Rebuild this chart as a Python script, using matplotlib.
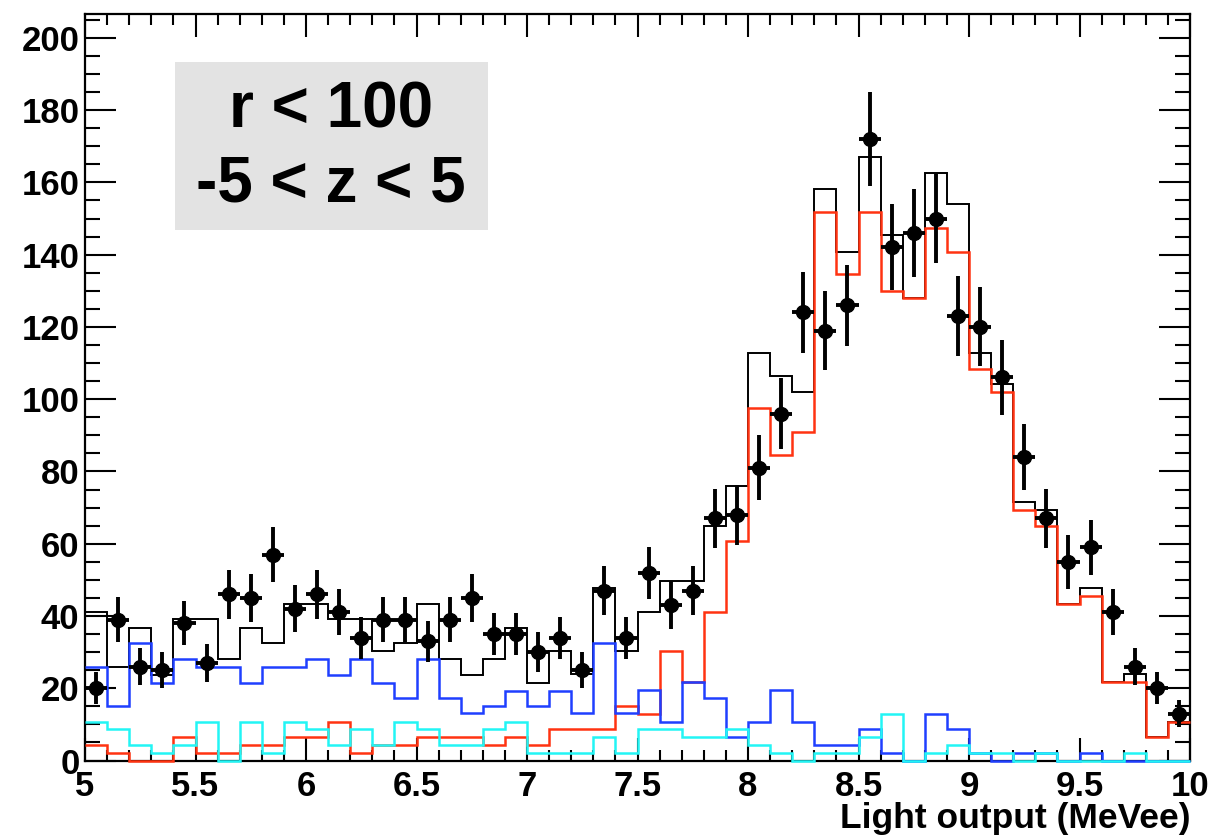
import numpy as np
import matplotlib
matplotlib.use("Agg")
import matplotlib.pyplot as plt
from matplotlib.patches import Rectangle

# bin edges: 50 bins of 0.1 MeVee from 5 to 10
edges = np.round(np.arange(5.0, 10.0001, 0.1), 2)
centers = edges[:-1] + 0.05

# measured data (points with sqrt(N) errors)
data = [20, 39, 26, 25, 38, 27, 46, 45, 57, 42,
        46, 41, 34, 39, 39, 33, 39, 45, 35, 35,
        30, 34, 25, 47, 34, 52, 43, 47, 67, 68,
        81, 96, 124, 119, 126, 172, 142, 146, 150, 123,
        120, 106, 84, 67, 55, 59, 41, 26, 20, 13]

# simulated components
red = [4.3, 2.2, 0, 0, 6.4, 2.2, 2.2, 4.3, 4.3, 6.4,
       6.4, 10.7, 2.2, 4.3, 4.3, 6.4, 6.4, 6.4, 4.3, 6.4,
       4.3, 8.6, 8.6, 8.6, 15.1, 12.9, 30.3, 21.7, 41.1, 60.8,
       97.5, 84.5, 91.0, 151.7, 134.6, 151.7, 130.0, 127.9, 147.5, 140.8,
       108.4, 101.9, 69.3, 65.0, 43.3, 45.5, 21.6, 21.6, 6.4, 10.7]

blue = [26.0, 15.1, 32.4, 21.5, 28.1, 26.0, 26.0, 21.5, 26.0, 26.0,
        28.1, 23.7, 28.1, 21.5, 17.2, 28.1, 17.2, 13.1, 15.1, 19.3,
        15.1, 19.3, 13.1, 32.4, 13.1, 19.4, 10.7, 21.7, 17.2, 6.4,
        10.7, 19.5, 10.7, 4.3, 4.3, 8.6, 2.2, 0, 12.9, 8.6,
        2.2, 0, 2.2, 2.2, 0, 2.2, 0, 0, 0, 0]

cyan = [10.7, 8.6, 4.3, 2.2, 4.3, 10.7, 0, 10.7, 2.2, 10.7,
        8.6, 4.3, 8.6, 4.3, 10.7, 8.6, 4.3, 4.3, 8.6, 10.7,
        2.2, 2.2, 2.2, 6.4, 2.2, 8.6, 8.6, 6.4, 6.4, 8.6,
        4.3, 2.2, 0, 2.2, 2.2, 6.4, 12.9, 0, 2.2, 4.3,
        2.2, 2.2, 0, 2.2, 0, 0, 0, 2.2, 0, 0]

total = [41.2, 26.0, 36.8, 23.7, 39.1, 39.1, 28.1, 36.8, 32.4, 43.2,
         43.2, 39.1, 39.1, 30.4, 32.4, 43.2, 28.1, 23.7, 28.1, 36.8,
         21.5, 30.4, 23.9, 47.7, 30.4, 41.2, 49.7, 49.8, 64.9, 76.0,
         112.7, 106.3, 101.9, 158.3, 140.8, 166.9, 145.3, 127.9, 162.5, 153.9,
         112.7, 104.1, 71.5, 69.3, 43.3, 47.7, 21.6, 23.9, 6.4, 10.7]

font = "Liberation Sans"
W, H = 1211, 838

fig = plt.figure(figsize=(W / 100, H / 100), dpi=100)
ax = fig.add_axes([85 / W, 1 - 760.5 / H, (1190 - 85) / W, (760.5 - 14) / H])

# histograms drawn over the frame, like ROOT does
ax.stairs(total, edges, baseline=None, color="black", lw=1.4, zorder=3, clip_on=False)
ax.stairs(red, edges, baseline=None, color="#ff3311", lw=1.8, zorder=3.1, clip_on=False)
ax.stairs(blue, edges, baseline=None, color="#1f3fff", lw=1.8, zorder=3.2, clip_on=False)
ax.stairs(cyan, edges, baseline=None, color="#22f5f5", lw=1.8, zorder=3.3, clip_on=False)

ax.errorbar(centers, data, yerr=np.sqrt(data), xerr=0.05, fmt="o", color="black",
            ms=10, elinewidth=2.8, capsize=0, zorder=5)

ax.set_xlim(5, 10)
ax.set_ylim(0, 206.6)
ax.set_xticks(np.arange(5, 10.01, 0.5))
ax.set_xticklabels(["5", "5.5", "6", "6.5", "7", "7.5", "8", "8.5", "9", "9.5", "10"])
ax.set_xticks(np.arange(5, 10.01, 0.1), minor=True)
ax.set_yticks(np.arange(0, 201, 20))
ax.set_yticks(np.arange(0, 206, 5), minor=True)

ax.tick_params(which="both", direction="in", top=True, right=True, width=1.5)
ax.tick_params(axis="x", which="major", length=16.5, pad=7)
ax.tick_params(axis="x", which="minor", length=8)
ax.tick_params(axis="y", which="major", length=22, pad=4)
ax.tick_params(axis="y", which="minor", length=11)
for lab in ax.get_xticklabels() + ax.get_yticklabels():
    lab.set_fontfamily(font)
    lab.set_fontweight("bold")
    lab.set_fontsize(25)
for sp in ax.spines.values():
    sp.set_linewidth(1.6)

fig.text(1190 / W, 1 - 818 / H, "Light output (MeVee)", ha="right", va="center",
         fontfamily=font, fontweight="bold", fontsize=25.5)

# label box
fig.add_artist(Rectangle((175 / W, 1 - 230 / H), (488 - 175) / W, (230 - 62) / H,
                         transform=fig.transFigure, facecolor="#e3e3e3", edgecolor="none", zorder=4))
fig.text(331 / W, 1 - 110 / H, "r < 100", ha="center", va="center",
         fontfamily=font, fontweight="bold", fontsize=46, zorder=6)
fig.text(331 / W, 1 - 185 / H, "-5 < z < 5", ha="center", va="center",
         fontfamily=font, fontweight="bold", fontsize=46, zorder=6)

fig.savefig("out.png", dpi=100)
